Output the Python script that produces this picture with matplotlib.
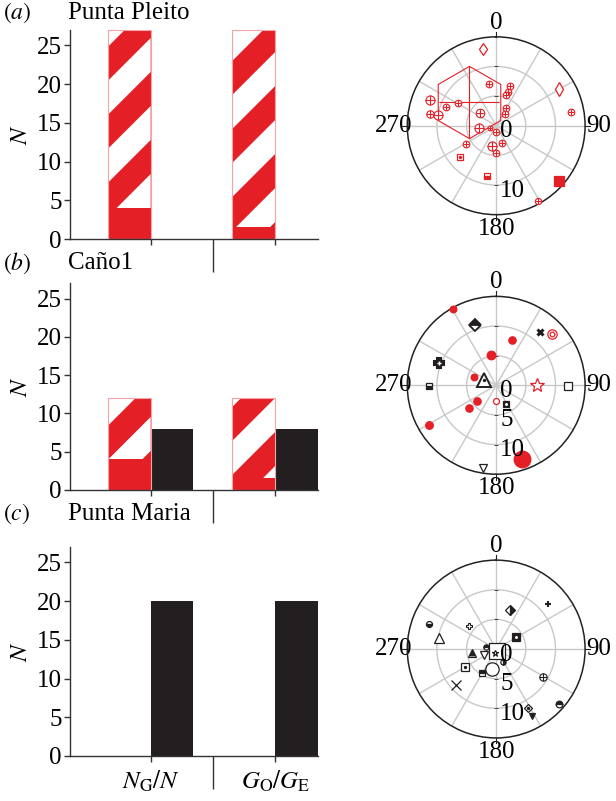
import numpy as np
import matplotlib
matplotlib.use("Agg")
import matplotlib.pyplot as plt
from matplotlib.patches import Rectangle, Polygon

plt.rcParams['font.family'] = ['Liberation Serif', 'DejaVu Serif']
plt.rcParams['mathtext.fontset'] = 'stix'

RED = '#e41f26'
PINK = '#f3a3a7'
BLACK = '#231f20'
GRID = '#c8c8c8'

# ---- bar data ----
groups = [r'$N_{\mathrm{G}}/N$', r'$G_{\mathrm{O}}/G_{\mathrm{E}}$']
sites = ['Punta Pleito', 'Caño1', 'Punta Maria']
panel_tags = ['a', 'b', 'c']
red_counts = [[27, 27], [12, 12], [0, 0]]
black_counts = [[0, 0], [8, 8], [20, 20]]

# ---- polar data (theta in degrees clockwise from north, r) ----
a_theta = [350.5, 59.7, 79.8, 131, 151, 190.7, 229.4, 239.4, 191.3, 180.7, 160.6,
           183, 261.6, 309.2, 300.5, 290.7, 290.9, 280.4, 280.4, 350.2, 19.1, 18.9,
           18.3, 27.8, 35, 310.6, 250]
a_r = [13.2, 12.3, 12.8, 14.1, 14.6, 8.65, 8.1, 6.0, 3.4, 4.6, 3.0,
       1.05, 3.0, 3.5, 7.5, 9.0, 12.0, 11.4, 9.9, 7.2, 7.1, 6.0,
       5.5, 3.45, 2.5, 6.1, 1.2]

b_theta = [330.8, 340.9, 39.2, 47.4, 18.7, 349.5, 291, 290.2, 294.7, 90, 90.5,
           269.4, 182.4, 152.6, 230.5, 229.9, 239.7, 189, 161.1]
b_r = [14.8, 10.7, 11.6, 12.9, 8.15, 5.2, 10.4, 4.0, 2.26, 6.94, 12.2,
       11.4, 2.6, 3.6, 4.1, 6.0, 13.2, 14.2, 13.2]

c_theta = [290.8, 281, 310.1, 19.3, 48.9, 58.3, 157, 204, 279.5, 261.3, 244.7,
           152.9, 239.7, 191, 209.9, 228, 121, 131.1, 151.4, 151.5]
c_r = [12.06, 9.9, 6.0, 7.06, 11.6, 3.9, 0.4, 0.67, 1.7, 4.05, 2.34,
       2.43, 6.05, 3.45, 4.68, 9.1, 9.3, 14.0, 11.3, 12.8]

# marker styles (kind, size in points)
a_style = [('diam', 6), ('diam', 6.8), ('oplus', 4.8), ('sqfill', 6.5), ('oplus', 4.5),
           ('sqhalf_b', 4.3), ('sqdot', 4.8), ('oplus', 4.8), ('oplus', 6.5), ('oplus', 4.8),
           ('oplus', 4.8), ('oplus', 4.8), ('oplus', 6.5), ('oplus', 6.2), ('oplus', 4.8),
           ('oplus', 4.8), ('oplus', 6.5), ('oplus', 5.3), ('oplus', 6.5), ('oplus', 4.8),
           ('oplus', 4.8), ('oplus', 4.8), ('oplus', 4.8), ('oplus', 4.8), ('oplus', 4.8),
           ('hexplus', 52), ('oplus', 3.5)]
a_col = [RED] * len(a_theta)

b_style = [('dot', 4.8), ('diam_top', 6.1), ('xbold', 4.8), ('bull', 6.7), ('dot', 5.3),
           ('dot', 6.2), ('cross', 7.5), ('dot', 4.8), ('tridot', 9.6), ('star', 10.8),
           ('sq', 5.3), ('sqhalf_b', 4.0), ('circ', 4.3), ('sqblk', 4.3), ('dot', 5.3),
           ('dot', 5.3), ('dot', 5.5), ('vtri', 6), ('dot', 12)]
b_col = [RED, BLACK, BLACK, RED, RED, RED, BLACK, RED, BLACK, RED, BLACK,
         BLACK, RED, BLACK, RED, RED, RED, BLACK, RED]

c_style = [('circhalf_b', 4.3), ('tri', 7.7), ('clover', 4), ('diam_right', 5.4),
           ('plus', 3.8), ('sqblk', 5.3), ('sq', 12), ('star', 4.8), ('circhalf_t', 3.8),
           ('triin', 6), ('vtri', 5.3), ('circhalf_r', 3.8), ('sqdot', 5.3), ('circ', 9.6),
           ('sqhalf_t', 4.8), ('xthin', 7.2), ('oplus', 5.3), ('circhalf_t', 4.8),
           ('diamdot', 4.2), ('vtriin', 4.8)]
c_col = [BLACK] * len(c_theta)


def mk(ax, th, r, marker, ms, color, **kw):
    opts = dict(marker=marker, ms=ms, color=color, mec=color, mew=0.9,
                linestyle='none', clip_on=False, zorder=5)
    opts.update(kw)
    ax.plot([th], [r], **opts)


def draw_point(ax, th, r, kind, s, c):
    if kind == 'oplus':
        mk(ax, th, r, 'o', s, c, mfc='white', mew=0.8)
        mk(ax, th, r, '+', s, c, mew=0.8, zorder=6)
    elif kind == 'dot':
        mk(ax, th, r, 'o', s, c, mfc=c)
    elif kind == 'circ':
        mk(ax, th, r, 'o', s, c, mfc='white')
    elif kind == 'bull':
        mk(ax, th, r, 'o', s, c, mfc='white')
        mk(ax, th, r, 'o', s * 0.5, c, mfc='white', zorder=6)
    elif kind == 'diam':
        mk(ax, th, r, 'd', s, c, mfc='white')
    elif kind == 'diam_top':
        mk(ax, th, r, 'D', s, c, mfc=c, fillstyle='top', mew=1.3, markerfacecoloralt='white')
    elif kind == 'diam_right':
        mk(ax, th, r, 'D', s, c, mfc=c, fillstyle='right', markerfacecoloralt='white')
    elif kind == 'diamdot':
        mk(ax, th, r, 'D', s, c, mfc='white')
        mk(ax, th, r, 'o', 1.5, c, mfc=c, zorder=6)
    elif kind == 'sq':
        mk(ax, th, r, 's', s, c, mfc='white')
    elif kind == 'sqfill':
        mk(ax, th, r, 's', s, c, mfc=c)
    elif kind == 'sqdot':
        mk(ax, th, r, 's', s, c, mfc='white')
        mk(ax, th, r, 'o', 1.5, c, mfc=c, zorder=6)
    elif kind == 'sqblk':
        mk(ax, th, r, 's', s, c, mfc=c)
        mk(ax, th, r, 'o', 1.2, 'white', mfc='white', zorder=6)
    elif kind.startswith('sqhalf'):
        fs = {'b': 'bottom', 't': 'top'}[kind[-1]]
        mk(ax, th, r, 's', s, c, mfc=c, fillstyle=fs, markerfacecoloralt='white')
    elif kind.startswith('circhalf'):
        fs = {'b': 'bottom', 't': 'top', 'r': 'right'}[kind[-1]]
        mk(ax, th, r, 'o', s, c, mfc=c, fillstyle=fs, markerfacecoloralt='white')
    elif kind == 'hexplus':
        mk(ax, th, r, 'h', s, c, mfc='none', mew=0.8, zorder=4)
        mk(ax, th, r, '|', s, c, mew=0.8, zorder=4)
        mk(ax, th, r, '_', s * 0.84, c, mew=0.8, zorder=4)
    elif kind == 'star':
        mk(ax, th, r, '*', s, c, mfc='white')
    elif kind == 'tri':
        mk(ax, th, r, '^', s, c, mfc='white')
    elif kind == 'tridot':
        mk(ax, th, r, '^', s, c, mfc='white', mew=1.4)
        mk(ax, th, r, 'o', 1.5, c, mfc=c, zorder=6)
    elif kind == 'triin':
        mk(ax, th, r, '^', s, c, mfc='white')
        mk(ax, th, r, '^', s * 0.55, c, mfc=c, zorder=6)
    elif kind == 'vtri':
        mk(ax, th, r, 'v', s, c, mfc='white')
    elif kind == 'vtriin':
        mk(ax, th, r, 'v', s, c, mfc='white')
        mk(ax, th, r, 'v', s * 0.55, c, mfc=c, zorder=6)
    elif kind == 'xbold':
        mk(ax, th, r, 'x', s, c, mew=2.2)
    elif kind == 'xthin':
        mk(ax, th, r, 'x', s, c, mew=0.9)
    elif kind == 'plus':
        mk(ax, th, r, '+', s, c, mew=1.5)
    elif kind == 'cross':
        mk(ax, th, r, 'P', s, c, mfc=c, mew=1.5)
        mk(ax, th, r, '+', s * 0.35, 'white', mew=1.0, zorder=6)
    elif kind == 'clover':
        mk(ax, th, r, 'P', s, c, mfc='white', mew=0.8)


def add_stripes(ax, x0, x1, top, base, phase, period=68):
    px0, py0 = ax.transData.transform((x0, 0))
    px1, py1 = ax.transData.transform((x1, top))
    w = px1 - px0
    inv = ax.transData.inverted()
    clip = Rectangle((x0, base), x1 - x0, top - base, transform=ax.transData)
    for k in range(-3, int((py1 - py0 + w) / period) + 3):
        c0 = phase + k * period
        c1 = c0 + period / 2
        pts = inv.transform([(px0, py0 + c0 - w), (px1, py0 + c0),
                             (px1, py0 + c1), (px0, py0 + c1 - w)])
        p = Polygon(pts, closed=True, facecolor='white', edgecolor='none', zorder=3)
        ax.add_patch(p)
        p.set_clip_path(clip)


fig = plt.figure(figsize=(6.16, 8.01), dpi=100)

bar_pos = [[0.1136, 0.7016, 0.4026, 0.261],
           [0.1136, 0.3883, 0.4026, 0.258],
           [0.1136, 0.0562, 0.4026, 0.261]]
polar_pos = [[0.661, 0.732, 0.289, 0.222],
             [0.661, 0.408, 0.289, 0.222],
             [0.661, 0.0787, 0.289, 0.222]]
tag_y = [13, 263, 514]
solid_base = [[4, 1.5], [4, 1.6], [0, 0]]
stripe_phase = [[31, 17], [39, 58], [0, 0]]

width = 0.344
x = np.arange(len(groups))

for i in range(3):
    ax = fig.add_axes(bar_pos[i])
    ax.set_xlim(-0.648, 1.344)
    ax.set_ylim(0, 27)
    for j in range(len(groups)):
        h = red_counts[i][j]
        if h > 0:
            ax.bar(x[j] - width / 2, h, width, color=RED, edgecolor='none', zorder=2)
            add_stripes(ax, x[j] - width, x[j], h, solid_base[i][j], stripe_phase[i][j])
            ax.bar(x[j] - width / 2, h, width, facecolor='none', edgecolor=PINK,
                   linewidth=0.8, zorder=4)
    ax.bar(x + width / 2, black_counts[i], width, color=BLACK, edgecolor='none', zorder=2)

    for sp in ['top', 'right']:
        ax.spines[sp].set_visible(False)
    for sp in ['left', 'bottom']:
        ax.spines[sp].set_linewidth(1.0)
        ax.spines[sp].set_color('#333333')
    ax.set_yticks([0, 5, 10, 15, 20, 25])
    ax.set_xticks(x)
    ax.set_xticks([0.5], minor=True)
    ax.tick_params(axis='both', which='major', direction='out', length=4,
                   width=1.0, labelsize=18, color='#333333', pad=2)
    ax.tick_params(axis='x', which='minor', direction='out', length=24, width=1.0,
                   color='#333333')
    if i == 2:
        ax.set_xticklabels(groups, fontsize=18)
        ax.tick_params(axis='x', which='major', pad=5)
    else:
        ax.set_xticklabels([])
    ax.set_ylabel('$N$', fontsize=18, labelpad=3)

    fig.text(3 / 616, 1 - tag_y[i] / 801, r'$(\mathit{%s})$' % panel_tags[i],
             fontsize=17, va='center', ha='left')
    fig.text(68 / 616, 1 - tag_y[i] / 801, sites[i], fontsize=18, va='center', ha='left')

# ---- polar panels ----
thetas = [a_theta, b_theta, c_theta]
radii = [a_r, b_r, c_r]
styles = [a_style, b_style, c_style]
colours = [a_col, b_col, c_col]
rlabels = [[0, 10], [0, 5, 10], [0, 5, 10]]

for i in range(3):
    ax = fig.add_axes(polar_pos[i], projection='polar')
    ax.set_theta_zero_location('N')
    ax.set_theta_direction(-1)
    ax.set_ylim(0, 15)
    ax.set_rgrids([5, 10], labels=['', ''])
    ax.set_thetagrids(np.arange(0, 360, 30),
                      labels=['0', '', '', '90', '', '', '180', '', '', '270', '', ''],
                      fontsize=18)
    ax.grid(True, color=GRID, linewidth=1.0)
    ax.spines['polar'].set_linewidth(1.1)
    ax.spines['polar'].set_color('#222222')
    ax.tick_params(axis='x', direction='inout', length=6, width=0.8, pad=0,
                   color='#222222')
    for t in [0, 90, 180, 270]:
        ax.plot([np.radians(t)] * 2, [15, 15.9], color='#222222', lw=0.8, clip_on=False)
    for t in [0, 180]:
        for rv in [5, 10]:
            ax.plot([np.radians(t)], [rv], marker='_', ms=3.5, color='#444444',
                    mew=0.6, linestyle='none', zorder=3)
    for rv in rlabels[i]:
        ax.annotate(str(rv), xy=(np.pi, rv), xytext=(3, -4), textcoords='offset points',
                    ha='left', va='center', fontsize=18, zorder=7)
    for th, r, (kind, s), c in zip(thetas[i], radii[i], styles[i], colours[i]):
        draw_point(ax, np.radians(th), r, kind, s, c)

fig.savefig('out.png', dpi=100)
